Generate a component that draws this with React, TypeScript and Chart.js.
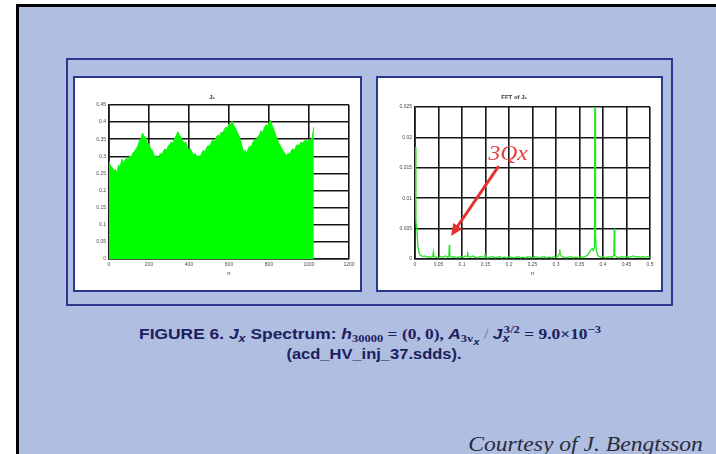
import React, { useEffect, useRef } from "react";
import { Chart, registerables } from "chart.js";

Chart.register(...registerables);

// ---------- data: J_x turn-by-turn (sampled every 8 turns) ----------
const sampleStep = 8;
const jxValues = [
  0.285, 0.272, 0.268, 0.258, 0.262, 0.252, 0.275, 0.268, 0.292, 0.28,
  0.288, 0.295, 0.29, 0.302, 0.298, 0.31, 0.315, 0.322, 0.33, 0.345,
  0.352, 0.368, 0.358, 0.355, 0.34, 0.335, 0.322, 0.318, 0.305, 0.298,
  0.302, 0.296, 0.308, 0.305, 0.315, 0.322, 0.318, 0.33, 0.335, 0.342,
  0.338, 0.352, 0.36, 0.372, 0.362, 0.355, 0.345, 0.338, 0.342, 0.325,
  0.318, 0.322, 0.31, 0.305, 0.308, 0.298, 0.302, 0.298, 0.31, 0.318,
  0.312, 0.325, 0.332, 0.328, 0.342, 0.348, 0.342, 0.355, 0.362, 0.358,
  0.37, 0.368, 0.378, 0.385, 0.382, 0.395, 0.392, 0.402, 0.39, 0.382,
  0.372, 0.362, 0.35, 0.332, 0.312, 0.318, 0.308, 0.322, 0.33, 0.328,
  0.342, 0.348, 0.345, 0.358, 0.362, 0.375, 0.37, 0.382, 0.392, 0.388,
  0.398, 0.405, 0.39, 0.378, 0.365, 0.352, 0.34, 0.332, 0.322, 0.315,
  0.308, 0.302, 0.31, 0.305, 0.318, 0.322, 0.318, 0.33, 0.335, 0.33,
  0.342, 0.338, 0.345, 0.348, 0.342, 0.35, 0.345, 0.355, 0.385,
];
const jxTurns = jxValues.map((_, i) => i * sampleStep);

const jxXTicks = { min: 0, max: 1200, step: 200 };
const jxYTicks = { min: 0, max: 0.45, step: 0.05 };

// ---------- data: FFT of J_x ----------
const fftFreq = [
  0, 0.002, 0.004, 0.006, 0.009, 0.012, 0.016, 0.02, 0.025, 0.03,
  0.035, 0.038, 0.039, 0.04, 0.045, 0.05, 0.055, 0.06, 0.065, 0.07,
  0.072, 0.073, 0.074, 0.078, 0.083, 0.088, 0.093, 0.098, 0.103, 0.108,
  0.111, 0.112, 0.113, 0.118, 0.123, 0.128, 0.133, 0.138, 0.143, 0.148,
  0.149, 0.15, 0.155, 0.16, 0.165, 0.17, 0.175, 0.18, 0.185, 0.19,
  0.195, 0.2, 0.205, 0.21, 0.215, 0.22, 0.225, 0.23, 0.235, 0.24,
  0.245, 0.25, 0.255, 0.26, 0.265, 0.27, 0.275, 0.28, 0.285, 0.29,
  0.295, 0.3, 0.305, 0.307, 0.308, 0.309, 0.312, 0.317, 0.322, 0.327,
  0.332, 0.337, 0.342, 0.347, 0.352, 0.357, 0.362, 0.367, 0.371, 0.374,
  0.377, 0.379, 0.381, 0.382, 0.383, 0.384, 0.386, 0.39, 0.395, 0.4,
  0.405, 0.41, 0.415, 0.42, 0.423, 0.424, 0.425, 0.43, 0.435, 0.44,
  0.445, 0.45, 0.455, 0.46, 0.465, 0.47, 0.475, 0.48, 0.485, 0.49,
  0.495, 0.5,
];
const fftAmp = [
  0.0184, 0.0062, 0.0048, 0.0021, 0.0009, 0.0006, 0.0004, 0.0005, 0.0003, 0.0004,
  0.0003, 0.0004, 0.0011, 0.0004, 0.0003, 0.0002, 0.0004, 0.0003, 0.0005, 0.0003,
  0.0004, 0.0023, 0.0005, 0.0003, 0.0004, 0.0002, 0.0003, 0.0004, 0.0003, 0.0005,
  0.0004, 0.0012, 0.0004, 0.0003, 0.0005, 0.0003, 0.0002, 0.0004, 0.0003, 0.0004,
  0.0007, 0.0003, 0.0002, 0.0003, 0.0004, 0.0002, 0.0003, 0.0004, 0.0002, 0.0003,
  0.0002, 0.0004, 0.0003, 0.0002, 0.0003, 0.0004, 0.0002, 0.0003, 0.0002, 0.0004,
  0.0003, 0.0002, 0.0004, 0.0003, 0.0002, 0.0003, 0.0004, 0.0002, 0.0003, 0.0002,
  0.0004, 0.0003, 0.0005, 0.0009, 0.0016, 0.0008, 0.0004, 0.0003, 0.0002, 0.0003,
  0.0004, 0.0002, 0.0003, 0.0002, 0.0004, 0.0003, 0.0004, 0.0006, 0.0011, 0.0015,
  0.0017, 0.0014, 0.0018, 0.006, 0.04, 0.004, 0.0012, 0.0005, 0.0003, 0.0004,
  0.0002, 0.0003, 0.0004, 0.0003, 0.0006, 0.005, 0.0006, 0.0003, 0.0002, 0.0004,
  0.0003, 0.0004, 0.0003, 0.0004, 0.0005, 0.0003, 0.0004, 0.0003, 0.0004, 0.0003,
  0.0004, 0.0003,
];
const fftXTicks = { min: 0, max: 0.5, step: 0.05 };
const fftYTicks = { min: 0, max: 0.025, step: 0.005 };

// annotation "3Qx" (in data coordinates of the FFT plot)
const arrowTail = [0.1766, 0.0151];
const arrowHead = [0.0766, 0.0038];
const arrowLabel = { text: "3Qx", at: [0.198, 0.0172] };

const SANS = '"Liberation Sans", Arial, sans-serif';
const SERIF = '"Liberation Serif", "Times New Roman", serif';
const GRID = "#151515";
const TICK = "#4a4a4a";

const plainNumber = (v: any) => String(parseFloat(Number(v).toFixed(6)));

const arrowPlugin = {
  id: "qxArrow",
  afterDatasetsDraw(chart: any) {
    const { ctx } = chart;
    const xs = chart.scales.x;
    const ys = chart.scales.y;
    const x1 = xs.getPixelForValue(arrowTail[0]);
    const y1 = ys.getPixelForValue(arrowTail[1]);
    const x2 = xs.getPixelForValue(arrowHead[0]);
    const y2 = ys.getPixelForValue(arrowHead[1]);
    const ang = Math.atan2(y2 - y1, x2 - x1);
    const headLen = 12;
    const headW = 5.5;
    const bx = x2 - headLen * Math.cos(ang);
    const by = y2 - headLen * Math.sin(ang);
    ctx.save();
    ctx.strokeStyle = "#e5312f";
    ctx.fillStyle = "#e5312f";
    ctx.lineWidth = 3;
    ctx.lineCap = "round";
    ctx.beginPath();
    ctx.moveTo(x1, y1);
    ctx.lineTo(bx, by);
    ctx.stroke();
    ctx.beginPath();
    ctx.moveTo(x2, y2);
    ctx.lineTo(bx + headW * Math.sin(ang), by - headW * Math.cos(ang));
    ctx.lineTo(bx - headW * Math.sin(ang), by + headW * Math.cos(ang));
    ctx.closePath();
    ctx.fill();
    const tx = xs.getPixelForValue(arrowLabel.at[0]);
    const ty = ys.getPixelForValue(arrowLabel.at[1]);
    ctx.translate(tx, ty);
    ctx.scale(1.18, 1);
    ctx.font = "italic 20px " + SERIF;
    ctx.fillStyle = "#e0403f";
    ctx.textAlign = "center";
    ctx.textBaseline = "middle";
    ctx.fillText(arrowLabel.text, 0, 0);
    ctx.restore();
  },
};

function axisCommon(extra: any) {
  return {
    type: "linear",
    grid: { color: GRID, lineWidth: 1.6, drawTicks: false },
    border: { color: GRID, width: 1.6 },
    ...extra,
  };
}

function tickOpts(step: number) {
  return {
    stepSize: step,
    color: TICK,
    font: { family: SANS, size: 5 },
    padding: 3,
    maxRotation: 0,
    autoSkip: false,
    callback: plainNumber,
  };
}

function JxChart() {
  const ref = useRef<HTMLCanvasElement | null>(null);
  useEffect(() => {
    const chart = new Chart(ref.current as HTMLCanvasElement, {
      type: "line",
      data: {
        datasets: [
          {
            data: jxTurns.map((n, i) => ({ x: n, y: jxValues[i] })),
            fill: "origin",
            backgroundColor: "#00ff00",
            borderColor: "#10f010",
            borderWidth: 1,
            pointRadius: 0,
            tension: 0,
          },
        ],
      },
      options: {
        animation: false,
        responsive: false,
        maintainAspectRatio: false,
        events: [],
        layout: { padding: { left: 0, right: 11, top: 0, bottom: 13.4 } },
        plugins: {
          legend: { display: false },
          tooltip: { enabled: false },
          title: {
            display: true,
            text: "J\u2093",
            color: "#333",
            font: { family: SANS, size: 6 },
            padding: { top: 15.4, bottom: 4.4 },
          },
        },
        scales: {
          x: axisCommon({
            min: jxXTicks.min,
            max: jxXTicks.max,
            ticks: tickOpts(jxXTicks.step),
            title: { display: true, text: "n", color: "#333", font: { family: SANS, size: 6 }, padding: 0 },
            afterFit(s: any) {
              s.height = 17.6;
            },
          }),
          y: axisCommon({
            min: jxYTicks.min,
            max: jxYTicks.max,
            ticks: tickOpts(jxYTicks.step),
            afterFit(s: any) {
              s.width = 34;
            },
          }),
        },
      },
    } as any);
    return () => chart.destroy();
  }, []);
  return <canvas ref={ref} width={285} height={212} style={{ position: "absolute", left: 0, top: 0, width: 285, height: 212 }} />;
}

function FftChart() {
  const ref = useRef<HTMLCanvasElement | null>(null);
  useEffect(() => {
    const chart = new Chart(ref.current as HTMLCanvasElement, {
      type: "line",
      data: {
        datasets: [
          {
            data: fftFreq.map((f, i) => ({ x: f, y: fftAmp[i] })),
            fill: false,
            borderColor: "#22e622",
            borderWidth: 1.3,
            pointRadius: 0,
            tension: 0,
          },
        ],
      },
      options: {
        animation: false,
        responsive: false,
        maintainAspectRatio: false,
        events: [],
        layout: { padding: { left: 0, right: 11, top: 0, bottom: 13.4 } },
        plugins: {
          legend: { display: false },
          tooltip: { enabled: false },
          title: {
            display: true,
            text: "FFT of J\u2093",
            color: "#333",
            font: { family: SANS, size: 6 },
            padding: { top: 15.4, bottom: 6.4 },
          },
        },
        scales: {
          x: axisCommon({
            min: fftXTicks.min,
            max: fftXTicks.max,
            ticks: tickOpts(fftXTicks.step),
            title: { display: true, text: "n", color: "#333", font: { family: SANS, size: 6 }, padding: 0 },
            afterFit(s: any) {
              s.height = 17.6;
            },
          }),
          y: axisCommon({
            min: fftYTicks.min,
            max: fftYTicks.max,
            ticks: tickOpts(fftYTicks.step),
            afterFit(s: any) {
              s.width = 37;
            },
          }),
        },
      },
      plugins: [arrowPlugin],
    } as any);
    return () => chart.destroy();
  }, []);
  return <canvas ref={ref} width={283} height={212} style={{ position: "absolute", left: 0, top: 0, width: 283, height: 212 }} />;
}

const Sub = ({ children, style }: any) => (
  <span style={{ fontSize: "0.72em", verticalAlign: "-0.32em", lineHeight: 0, ...style }}>{children}</span>
);
const Sup = ({ children, style }: any) => (
  <span style={{ fontSize: "0.72em", verticalAlign: "0.55em", lineHeight: 0, ...style }}>{children}</span>
);

export default function App() {
  const panelBorder = "2px solid #2c378d";
  return (
    <div style={{ position: "absolute", left: 0, top: 0, width: 716, height: 454, overflow: "hidden", background: "#ffffff" }}>
      <div
        style={{
          position: "absolute",
          left: 16,
          top: 4,
          width: 700,
          height: 450,
          boxSizing: "border-box",
          borderTop: "3px solid #000",
          borderLeft: "3px solid #000",
          background: "#b0bee2",
        }}
      />
      <div style={{ position: "absolute", left: 66, top: 58, width: 607, height: 248, boxSizing: "border-box", border: panelBorder }} />
      <div style={{ position: "absolute", left: 73, top: 76, width: 289, height: 216, boxSizing: "border-box", border: panelBorder, background: "#fff" }}>
        <JxChart />
      </div>
      <div style={{ position: "absolute", left: 376, top: 76, width: 287, height: 216, boxSizing: "border-box", border: panelBorder, background: "#fff" }}>
        <FftChart />
      </div>
      <div
        style={{
          position: "absolute",
          left: 20,
          top: 324,
          width: 700,
          textAlign: "center",
          color: "#1c205e",
          fontFamily: SANS,
          fontWeight: "bold",
          fontSize: 15,
          lineHeight: "20px",
        }}
      >
        <div style={{ transform: "scaleX(1.16)", whiteSpace: "nowrap" }}>
          FIGURE 6. <i>J</i>
          <Sub style={{ fontStyle: "italic" }}>x</Sub> Spectrum: <i>h</i>
          <Sub style={{ fontFamily: SERIF }}>30000</Sub>
          <span style={{ fontFamily: SERIF }}> = (0, 0), </span>
          <i>A</i>
          <Sub style={{ fontFamily: SERIF }}>
            3v<span style={{ fontFamily: SANS, fontStyle: "italic", fontSize: "0.85em", verticalAlign: "-0.3em" }}>x</span>
          </Sub>
          <span style={{ fontFamily: SERIF, fontWeight: "normal", color: "#6b6f96" }}> / </span>
          <i>J</i>
          <Sub style={{ fontStyle: "italic" }}>x</Sub>
          <Sup style={{ fontFamily: SERIF, marginLeft: "-0.45em" }}>3/2</Sup>
          <span style={{ fontFamily: SERIF }}> = 9.0×10</span>
          <Sup style={{ fontFamily: SERIF }}>−3</Sup>
        </div>
        <div style={{ transform: "scaleX(1.1)", whiteSpace: "nowrap", marginLeft: 8 }}>(acd_HV_inj_37.sdds).</div>
      </div>
      <div
        style={{
          position: "absolute",
          right: 13,
          top: 432,
          lineHeight: "24px",
          fontFamily: SERIF,
          fontStyle: "italic",
          fontSize: 20,
          color: "#2a2b3a",
          transform: "scaleX(1.18)",
          transformOrigin: "right center",
          whiteSpace: "nowrap",
        }}
      >
        Courtesy of J. Bengtsson
      </div>
    </div>
  );
}
